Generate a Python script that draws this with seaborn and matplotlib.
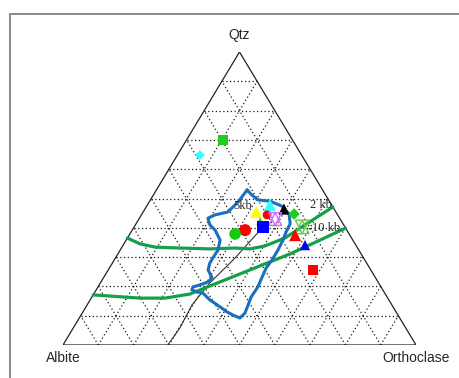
import matplotlib
matplotlib.use("Agg")
import matplotlib.pyplot as plt
from matplotlib.patches import Rectangle
import numpy as np
import pandas as pd
import seaborn as sns

sns.set_style("white")

# Apex labels of the Qtz - Albite - Orthoclase diagram
corner_labels = ["Qtz", "Albite", "Orthoclase"]

# Sample compositions (wt %): quartz and orthoclase; albite is the remainder
sample_qtz = [70.0, 64.8, 45.4, 47.8, 46.4, 44.4, 43.0, 44.7, 42.3, 40.3, 39.2, 37.9, 40.3, 37.5, 34.1, 25.6]
sample_or = [10.3, 6.4, 32.0, 34.7, 39.4, 35.6, 38.6, 43.1, 34.7, 36.5, 32.0, 29.8, 47.6, 47.0, 51.5, 58.0]
sample_marker = ["s", "D", "^", "^", "^", "o", "hex", "D", "^", "s", "o", "o", "hex", "^", "^", "s"]
sample_color = ["#1fcc1f", "#33ffff", "#ffff00", "#33ffff", "#000000", "#ff0000", "#cc66ff", "#22cc22",
                "#22cc22", "#0000ff", "#ff0000", "#11cc11", "#66cc44", "#ff0000", "#0000ff", "#ff0000"]
sample_size = [60, 25, 75, 75, 65, 40, 85, 35, 30, 65, 75, 70, 95, 75, 55, 60]

# Cotectic curves (Qtz %, Or %)
cot_2kb_qtz = [36.5, 34.5, 33.4, 33.1, 32.8, 33.1, 32.8, 33.8, 36.5, 39.9, 47.1]
cot_2kb_or = [0.0, 4.6, 9.4, 16.6, 25.2, 32.2, 36.6, 40.3, 44.6, 47.2, 52.9]
cot_10kb_qtz = [17.1, 16.0, 16.0, 17.4, 18.8, 22.9, 27.0, 31.1, 35.8, 39.9]
cot_10kb_or = [0.0, 13.8, 20.9, 27.3, 29.4, 35.9, 42.3, 48.8, 54.9, 60.1]

# Thin trend line rising from the Ab-Or join
trend_qtz = [0.0, 5.8, 13.7, 21.2, 29.7, 41.0]
trend_or = [29.7, 30.2, 29.7, 31.0, 33.9, 36.7]

# Outline of the 5 kb field
field_qtz = [52.9, 51.2, 49.5, 49.1, 47.4, 44.7, 41.3, 38.6, 35.8, 32.4, 29.0, 26.3, 23.2, 19.8,
             16.4, 13.7, 10.9, 9.2, 10.2, 11.3, 13.0, 15.4, 17.7, 18.1, 18.8, 19.8, 20.5, 21.5,
             22.9, 25.6, 28.0, 29.7, 32.4, 35.8, 39.2, 41.0, 43.3, 44.4, 45.4, 48.8, 52.9]
field_or = [25.7, 27.9, 30.5, 34.1, 38.3, 41.7, 43.7, 43.9, 44.4, 44.7, 44.7, 44.4, 44.8, 45.3,
            45.1, 45.6, 46.1, 45.5, 43.1, 40.8, 38.0, 33.9, 30.8, 28.9, 27.1, 26.9, 28.5, 30.3,
            30.8, 28.3, 27.6, 27.6, 27.7, 26.6, 23.5, 21.1, 19.4, 20.9, 24.0, 25.2, 25.7]

# Pressure labels: text, Qtz %, Or %
press_text = ["5kb", "2 kb", "10 kb"]
press_qtz = [47.4, 47.8, 39.9]
press_or = [27.3, 49.2, 54.5]


def to_xy(qtz, orth):
    q = np.asarray(qtz, float) / 100.0
    o = np.asarray(orth, float) / 100.0
    return o + q / 2.0, q


W, H = 460, 378
fig = plt.figure(figsize=(W / 100, H / 100), dpi=100)
ax = fig.add_axes([63 / W, (H - 345) / H, 353 / W, 293 / H])
ax.set_xlim(0, 1)
ax.set_ylim(0, 1)
ax.axis("off")

# Outer frame
fig.add_artist(Rectangle((10 / W, -0.2), 2.0, (H - 14) / H + 0.2, transform=fig.transFigure,
                         fill=False, ec="#8a8a8a", lw=1.4))

# Dotted 10 % grid
for k in range(1, 10):
    p = k * 10.0
    grid = [([p, p], [0, 100 - p]),     # constant Qtz
            ([0, 100 - p], [p, p]),     # constant Or
            ([0, p], [p, 0])]           # constant Ab
    for gq, go in grid:
        gx, gy = to_xy(gq, go)
        ax.plot(gx, gy, ls=(0, (1, 2)), color="#1a1a1a", lw=0.9, zorder=1)

# Triangle border
bx, by = to_xy([0, 0, 100, 0], [0, 100, 0, 0])
ax.plot(bx, by, color="#222222", lw=0.9, zorder=2)

tx, ty = to_xy(trend_qtz, trend_or)
ax.plot(tx, ty, color="#333333", lw=0.8, zorder=2)

for cq, co in [(cot_2kb_qtz, cot_2kb_or), (cot_10kb_qtz, cot_10kb_or)]:
    cx, cy = to_xy(cq, co)
    sns.lineplot(x=cx, y=cy, sort=False, estimator=None, color="#14a04a", lw=2.3, ax=ax, zorder=3)

fx, fy = to_xy(field_qtz, field_or)
sns.lineplot(x=fx, y=fy, sort=False, estimator=None, color="#1a6fc0", lw=2.2, ax=ax, zorder=3)

# Samples
sx, sy = to_xy(sample_qtz, sample_or)
for x, y, m, c, s in zip(sx, sy, sample_marker, sample_color, sample_size):
    if m == "hex":
        for tri in ["^", "v"]:
            ax.scatter([x], [y], marker=tri, s=s, facecolors="none", edgecolors=c, linewidths=1.0, zorder=5)
    else:
        sns.scatterplot(x=[x], y=[y], marker=m, s=s, color=c, edgecolor="none", linewidth=0, ax=ax, zorder=5)

px_, py_ = to_xy(press_qtz, press_or)
for t, x, y in zip(press_text, px_, py_):
    ax.text(x, y, t, fontsize=9, family="Liberation Serif", ha="center", va="center", zorder=6)

# Corner labels
ax.text(0.5, 1.0 + 10 / 293, corner_labels[0], fontsize=10, family="Liberation Sans",
        ha="center", va="bottom", clip_on=False)
ax.text(0.0, -13 / 293, corner_labels[1], fontsize=10, family="Liberation Sans",
        ha="center", va="center", clip_on=False)
ax.text(1.0, -13 / 293, corner_labels[2], fontsize=10, family="Liberation Sans",
        ha="center", va="center", clip_on=False)

fig.savefig("out.png", dpi=100)
